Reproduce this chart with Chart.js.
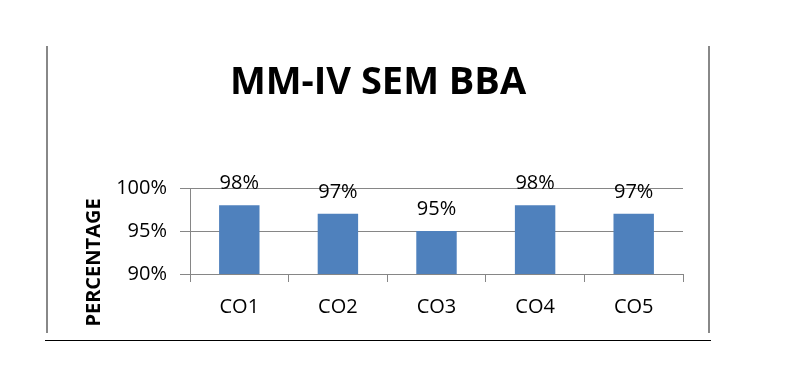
<!DOCTYPE html>
<html>
<head>
<meta charset="utf-8">
<style>
  html, body { margin: 0; padding: 0; background: #fff; }
  #wrap { position: relative; width: 786px; height: 370px; }
</style>
<script src="https://cdn.jsdelivr.net/npm/chart.js@4.4.1/dist/chart.umd.min.js"></script>
</head>
<body>
<div id="wrap"><canvas id="c" width="786" height="370"></canvas></div>
<script>
const chartTitle = "MM-IV SEM BBA";
const yAxisTitle = "PERCENTAGE";
const categories = ["CO1", "CO2", "CO3", "CO4", "CO5"];
const values = [98, 97, 95, 98, 97];
const yTicks = [90, 95, 100];

const FONT = "'Open Sans', 'Noto Sans', sans-serif";

const extras = {
  id: 'extras',
  afterDatasetsDraw(chart) {
    const ctx = chart.ctx;
    const meta = chart.getDatasetMeta(0);
    ctx.save();
    ctx.font = "20px " + FONT;
    ctx.fillStyle = '#000';
    ctx.textAlign = 'center';
    ctx.textBaseline = 'middle';
    meta.data.forEach((bar, i) => {
      ctx.fillText(values[i] + '%', bar.x, bar.y - 22);
    });
    ctx.restore();
  },
  afterDraw(chart) {
    const ctx = chart.ctx;
    ctx.save();
    ctx.font = "bold 20px " + FONT;
    ctx.fillStyle = '#000';
    ctx.textAlign = 'center';
    ctx.textBaseline = 'middle';
    ctx.translate(94, 262.5);
    ctx.rotate(-Math.PI / 2);
    ctx.fillText(yAxisTitle, 0, 0);
    ctx.restore();
    ctx.save();
    ctx.strokeStyle = '#888888';
    ctx.lineWidth = 2;
    ctx.beginPath();
    ctx.moveTo(47, 46); ctx.lineTo(47, 333);
    ctx.moveTo(709, 46); ctx.lineTo(709, 333);
    ctx.stroke();
    ctx.strokeStyle = '#000';
    ctx.lineWidth = 1;
    ctx.beginPath();
    ctx.moveTo(45, 340.5); ctx.lineTo(711, 340.5);
    ctx.stroke();
    ctx.restore();
  }
};

new Chart(document.getElementById('c'), {
  type: 'bar',
  data: {
    labels: categories,
    datasets: [{
      data: values,
      backgroundColor: '#4F81BD',
      borderWidth: 0,
      barPercentage: 0.41,
      categoryPercentage: 1.0
    }]
  },
  options: {
    responsive: false,
    animation: false,
    devicePixelRatio: 1,
    layout: { padding: { left: 47, right: 77, top: 0, bottom: 36 } },
    plugins: {
      legend: { display: false },
      tooltip: { enabled: false },
      title: {
        display: true,
        text: chartTitle,
        color: '#000',
        font: { family: FONT, size: 38, weight: 'bold' },
        padding: { top: 60.5, bottom: 82 }
      }
    },
    scales: {
      x: {
        grid: { display: true, drawOnChartArea: false, drawTicks: true, tickLength: 8, color: '#868686', offset: true },
        border: { display: true, color: '#868686' },
        ticks: { color: '#000', font: { family: FONT, size: 20 }, padding: 13 },
        afterFit: (s) => { s.height = 60; }
      },
      y: {
        min: 90,
        max: 100,
        afterBuildTicks: (s) => { s.ticks = yTicks.map(v => ({ value: v })); },
        grid: { color: '#868686', tickLength: 10, drawTicks: true },
        border: { display: true, color: '#868686' },
        ticks: { color: '#000', font: { family: FONT, size: 20 }, padding: 13, callback: (v) => v + '%' },
        afterFit: (s) => { s.width = 143; }
      },
      yR: {
        position: 'right',
        display: true,
        grid: { display: false },
        border: { display: false },
        ticks: { display: false },
        afterFit: (s) => { s.width = 26; }
      }
    }
  },
  plugins: [extras]
});
</script>
</body>
</html>
